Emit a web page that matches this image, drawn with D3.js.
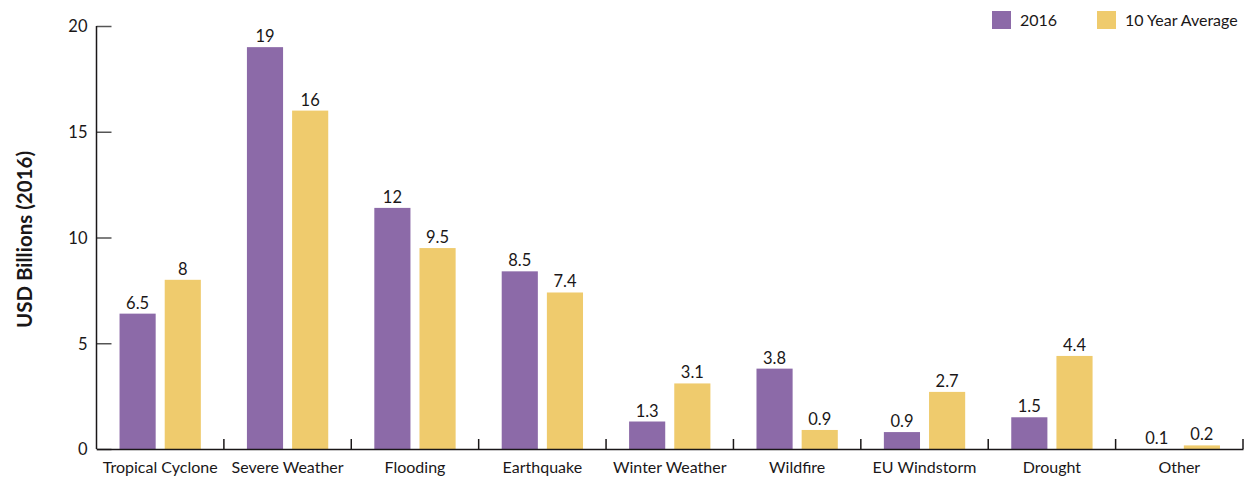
<!DOCTYPE html>
<html>
<head>
<meta charset="utf-8">
<script src="https://cdn.jsdelivr.net/npm/d3@7"></script>
<style>
  html, body { margin: 0; padding: 0; background: #fff; }
  svg { display: block; }
  text { font-family: Lato, "Open Sans", sans-serif; fill: #1a1718; }
</style>
</head>
<body>
<svg id="chart" width="1244" height="479"></svg>
<script>
const categories = ["Tropical Cyclone", "Severe Weather", "Flooding", "Earthquake", "Winter Weather", "Wildfire", "EU Windstorm", "Drought", "Other"];
const series = ["2016", "10 Year Average"];
const values2016 = [6.4, 19, 11.4, 8.4, 1.3, 3.8, 0.8, 1.5, 0];
const valuesAvg = [8, 16, 9.5, 7.4, 3.1, 0.9, 2.7, 4.4, 0.17];
const labels2016 = ["6.5", "19", "12", "8.5", "1.3", "3.8", "0.9", "1.5", "0.1"];
const labelsAvg = ["8", "16", "9.5", "7.4", "3.1", "0.9", "2.7", "4.4", "0.2"];
const yTicks = [0, 5, 10, 15, 20];
const colors = ["#8c6aa8", "#efcb6d"];

const svg = d3.select("#chart");
const x0 = d3.scaleBand().domain(categories).range([96.5, 1243]).paddingInner(0).paddingOuter(0);
const x1 = d3.scaleBand().domain(series).range([0, x0.bandwidth()]).paddingInner(0.2).paddingOuter(0.51);
const y = d3.scaleLinear().domain([0, 20]).range([449, 26]);
const color = d3.scaleOrdinal().domain(series).range(colors);

const rows = categories.map((c, i) => ({
  cat: c,
  items: [
    { s: series[0], v: values2016[i], l: labels2016[i] },
    { s: series[1], v: valuesAvg[i], l: labelsAvg[i] }
  ]
}));

// bars
const g = svg.append("g");
const grp = g.selectAll("g.cat").data(rows).join("g")
  .attr("transform", d => `translate(${x0(d.cat)},0)`);
grp.selectAll("rect").data(d => d.items).join("rect")
  .attr("x", d => x1(d.s))
  .attr("width", x1.bandwidth())
  .attr("y", d => y(d.v))
  .attr("height", d => y(0) - y(d.v))
  .attr("fill", d => color(d.s));
grp.selectAll("text").data(d => d.items).join("text")
  .attr("x", d => x1(d.s) + x1.bandwidth() / 2)
  .attr("y", d => y(d.v) - 5)
  .attr("text-anchor", "middle")
  .attr("font-size", 16.5)
  .text(d => d.l);

// y axis
const yAxis = d3.axisRight(y).tickValues(yTicks).tickSize(15).tickFormat(d3.format("d"));
const ya = svg.append("g").attr("transform", "translate(96.5,0)").call(yAxis);
ya.select(".domain").remove();
ya.selectAll(".tick line").attr("stroke", "#555").attr("stroke-width", 1.5);
ya.selectAll(".tick text").attr("x", -9).attr("text-anchor", "end").attr("font-size", 16.5)
  .attr("font-family", "Lato, 'Open Sans', sans-serif").attr("fill", "#1a1718").attr("dy", "0.35em");
svg.append("line").attr("x1", 96.5).attr("x2", 96.5).attr("y1", y(20)).attr("y2", y(0))
  .attr("stroke", "#1a1718").attr("stroke-width", 1.5);

// x axis
const xa = svg.append("g").attr("transform", `translate(0,${y(0)})`)
  .call(d3.axisBottom(x0).tickSize(0).tickPadding(13));
xa.select(".domain").attr("stroke", "#1a1718").attr("stroke-width", 1.5);
xa.selectAll(".tick text").attr("font-size", 16).attr("font-family", "Lato, 'Open Sans', sans-serif").attr("fill", "#1a1718");
xa.selectAll("line.sep").data(categories).join("line").attr("class", "sep")
  .attr("x1", d => x0(d) + x0.bandwidth()).attr("x2", d => x0(d) + x0.bandwidth())
  .attr("y1", 0).attr("y2", -10).attr("stroke", "#1a1718").attr("stroke-width", 1.5);

// y title
svg.append("text")
  .attr("transform", `translate(32,${(y(0) + y(20)) / 2 + 2}) rotate(-90)`)
  .attr("text-anchor", "middle")
  .attr("font-weight", "bold")
  .attr("font-size", 20.5)
  .text("USD Billions (2016)");

// legend
const legX = [992, 1097];
const leg = svg.selectAll("g.leg").data(series).join("g").attr("class", "leg")
  .attr("transform", (d, i) => `translate(${legX[i]},11)`);
leg.append("rect").attr("width", 19).attr("height", 18).attr("fill", d => color(d));
leg.append("text").attr("x", 28).attr("y", 15).attr("font-size", 16).text(d => d);
</script>
</body>
</html>
